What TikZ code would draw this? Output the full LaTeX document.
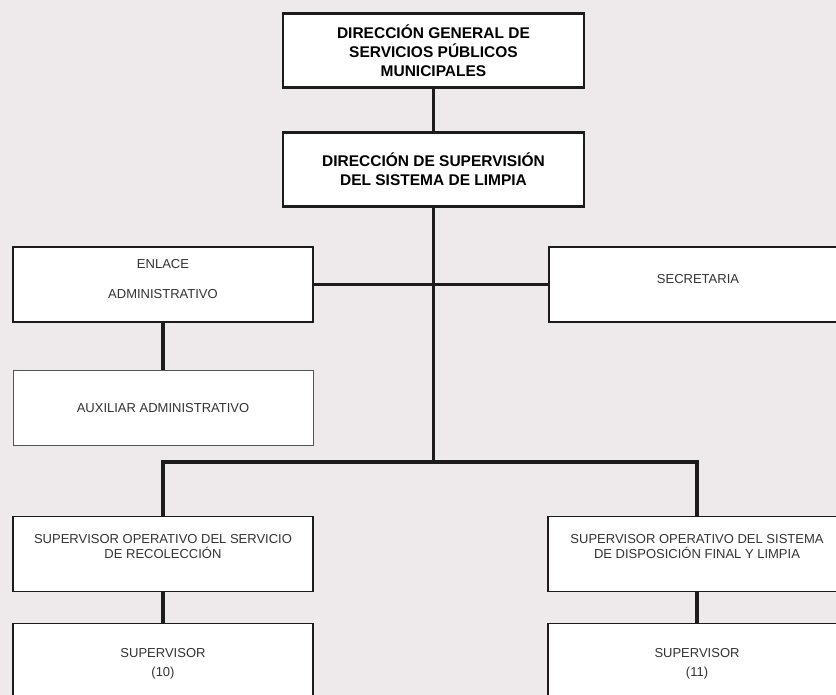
\documentclass[tikz,border=0pt]{standalone}
\usepackage{fontspec}
\setmainfont{Liberation Sans}

\definecolor{paper}{RGB}{238,234,236}
\definecolor{ink}{RGB}{28,28,28}

\tikzset{
  headbox/.style={draw=ink,line width=2.8pt,fill=white,minimum width=301pt,
    minimum height=74pt,inner sep=0pt,align=center,
    font=\bfseries\fontsize{15.5}{19}\selectfont},
  unitbox/.style={draw=ink,line width=1.5pt,fill=white,minimum width=300pt,
    minimum height=75pt,inner sep=0pt,align=center,text=ink!90,
    font=\fontsize{13}{15}\selectfont},
  faintbox/.style={unitbox,draw=ink!75,line width=0.9pt},
  link/.style={draw=ink,line width=3.2pt}
}

\begin{document}
\begin{tikzpicture}[x=1pt,y=-1pt]

\fill[paper] (0,0) rectangle (836,695);
\clip (0,0) rectangle (836,695);

\node[headbox] (dg)   at (433.5,50.5)  {DIRECCIÓN GENERAL DE\\SERVICIOS PÚBLICOS\\MUNICIPALES};
\node[headbox] (dsl)  at (433.5,169.5) {DIRECCIÓN DE SUPERVISIÓN\\DEL SISTEMA DE LIMPIA};

\node[unitbox]  (enl)  at (163,284.5)   {ENLACE\\ \strut\\ADMINISTRATIVO\\[-4pt]\mbox{}};
\node[unitbox,minimum width=298pt] (sec) at (698,284.5) {SECRETARIA\\[-4pt]\mbox{}};
\node[faintbox] (aux)  at (163,408)     {AUXILIAR ADMINISTRATIVO};

\node[unitbox]  (sor)  at (163,554)     {SUPERVISOR OPERATIVO DEL SERVICIO\\DE RECOLECCIÓN\\ \mbox{}};
\node[unitbox,minimum width=298pt] (sod) at (697,554) {SUPERVISOR OPERATIVO DEL SISTEMA\\DE DISPOSICIÓN FINAL Y LIMPIA\\ \mbox{}};
\node[unitbox,minimum height=81pt] (sup10) at (163,664) {SUPERVISOR\\[4pt](10)};
\node[unitbox,minimum height=81pt,minimum width=298pt] (sup11) at (697,664) {SUPERVISOR\\[4pt](11)};

\coordinate (bar) at (433.5,462);

% connectors
\path[link] (dg)  -- (dsl);
\path[link] (dsl) -- (bar);
\path[link] (enl) -- (sec);
\path[link] (enl) -- (aux);
\path[link] (sor.north) |- (bar) -| (sod.north);
\path[link] (sor) -- (sup10);
\path[link] (sod) -- (sup11);

\end{tikzpicture}
\end{document}
